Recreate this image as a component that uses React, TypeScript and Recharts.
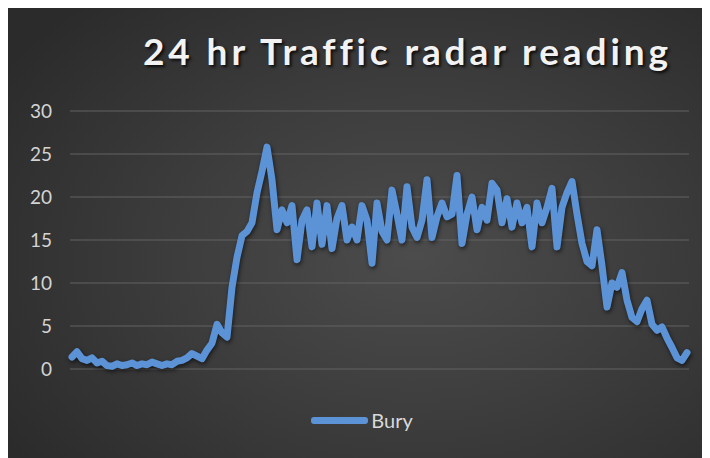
import React from "react";
import { LineChart, Line, XAxis, YAxis, CartesianGrid, Legend } from "recharts";

const seriesName = "Bury";
const titleText = "24 hr Traffic radar reading";
const yTicks = [0, 5, 10, 15, 20, 25, 30];
const readings = [
  1.4, 2.0, 1.2, 1.0, 1.3, 0.7, 0.9, 0.4, 0.3, 0.6,
  0.4, 0.5, 0.7, 0.4, 0.6, 0.5, 0.8, 0.6, 0.4, 0.6,
  0.5, 0.9, 1.0, 1.3, 1.8, 1.5, 1.2, 2.2, 3.0, 5.2,
  4.2, 3.7, 9.5, 13.0, 15.5, 16.0, 17.0, 20.5, 23.0, 25.8,
  22.0, 16.2, 18.5, 17.0, 19.0, 12.7, 17.3, 18.5, 14.2, 19.3,
  14.5, 19.0, 14.0, 17.5, 19.0, 15.0, 16.5, 15.0, 19.0, 17.3,
  12.3, 19.3, 16.0, 15.0, 20.8, 18.0, 15.0, 21.2, 16.5, 15.3,
  17.3, 22.0, 15.3, 17.7, 19.3, 17.7, 18.0, 22.5, 14.6, 18.0,
  20.0, 16.2, 18.8, 17.3, 21.6, 20.8, 17.0, 19.8, 16.5, 19.3,
  17.0, 18.8, 14.2, 19.3, 17.0, 18.8, 21.0, 14.2, 18.8, 20.5,
  21.8, 18.0, 14.6, 12.5, 12.0, 16.2, 12.0, 7.2, 10.0, 9.5,
  11.2, 8.0, 6.0, 5.5, 7.0, 8.0, 5.2, 4.5, 4.9, 3.6,
  2.5, 1.3, 1.0, 1.9,
];

const data = readings.map((v, i) => ({ t: i, Bury: v }));

const FONT = "Lato, 'Open Sans', sans-serif";
const LINE_COLOR = "#5b93d6";

const LegendContent = () => (
  <div
    style={{
      display: "flex",
      justifyContent: "center",
      alignItems: "center",
      fontFamily: FONT,
      fontSize: 20,
      color: "#d9d9d9",
      paddingLeft: 6,
    }}
  >
    <div
      style={{
        width: 57,
        height: 7,
        borderRadius: 3,
        background: LINE_COLOR,
        marginRight: 3,
      }}
    />
    <span>{seriesName}</span>
  </div>
);

export default function App() {
  return (
    <div
      style={{
        position: "relative",
        width: 702,
        height: 453,
        marginTop: -3,
        background:
          "radial-gradient(ellipse 70% 75% at 58% 55%, #4c4c4c 0%, #3e3e3e 45%, #2b2b2b 100%)",
        overflow: "hidden",
      }}
    >
      <div
        style={{
          position: "absolute",
          left: 135,
          top: 23,
          fontFamily: FONT,
          fontWeight: 700,
          fontSize: 37,
          letterSpacing: 3.9,
          color: "#f2f2f2",
          textShadow: "2px 2px 3px rgba(0,0,0,0.8)",
          whiteSpace: "nowrap",
        }}
      >
        {titleText}
      </div>
      <LineChart
        width={702}
        height={453}
        data={data}
        margin={{ top: 106, right: 21, bottom: 65, left: 22 }}
        style={{ position: "absolute", left: 0, top: 0 }}
      >
        <CartesianGrid vertical={false} stroke="#626262" strokeWidth={1.2} />
        <XAxis
          dataKey="t"
          type="number"
          domain={[-0.4, readings.length - 1 + 0.4]}
          hide
        />
        <YAxis
          domain={[0, 30]}
          ticks={yTicks}
          width={40}
          axisLine={false}
          tickLine={false}
          tickSize={0}
          tickMargin={18}
          tick={{ fill: "#d4d4d4", fontSize: 19, fontFamily: FONT }}
          interval={0}
        />
        <Legend
          verticalAlign="bottom"
          content={<LegendContent />}
          wrapperStyle={{ position: "absolute", top: 403, left: 0, width: 702 }}
        />
        <Line
          type="linear"
          dataKey="Bury"
          stroke={LINE_COLOR}
          strokeWidth={7}
          strokeLinejoin="round"
          strokeLinecap="round"
          dot={false}
          isAnimationActive={false}
          style={{ filter: "drop-shadow(1px 2px 2px rgba(0,0,0,0.6))" }}
        />
      </LineChart>
    </div>
  );
}
